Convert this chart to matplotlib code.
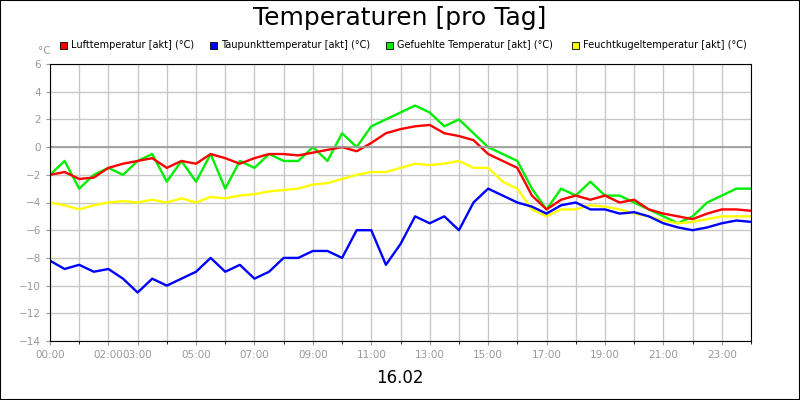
import matplotlib
matplotlib.use("Agg")
import matplotlib.pyplot as plt
import numpy as np

hours = np.arange(0, 24.01, 0.5)
luft = [-2,-1.8,-2.3,-2.2,-1.5,-1.2,-1,-0.8,-1.5,-1,-1.2,-0.5,-0.8,-1.2,-0.8,-0.5,-0.5,-0.6,-0.4,-0.2,0,-0.3,0.3,1.0,1.3,1.5,1.6,1.0,0.8,0.5,-0.5,-1.0,-1.5,-3.5,-4.5,-3.8,-3.5,-3.8,-3.5,-4,-3.8,-4.5,-4.8,-5,-5.2,-4.8,-4.5,-4.5,-4.6]
tau = [-8.2,-8.8,-8.5,-9,-8.8,-9.5,-10.5,-9.5,-10,-9.5,-9,-8,-9,-8.5,-9.5,-9,-8,-8,-7.5,-7.5,-8,-6,-6,-8.5,-7,-5,-5.5,-5,-6,-4,-3,-3.5,-4,-4.3,-4.8,-4.2,-4,-4.5,-4.5,-4.8,-4.7,-5,-5.5,-5.8,-6,-5.8,-5.5,-5.3,-5.4]
gef = [-2,-1,-3,-2,-1.5,-2,-1,-0.5,-2.5,-1,-2.5,-0.5,-3,-1,-1.5,-0.5,-1,-1,0,-1,1,0,1.5,2,2.5,3,2.5,1.5,2,1,0,-0.5,-1,-3,-4.5,-3,-3.5,-2.5,-3.5,-3.5,-4,-4.5,-5,-5.5,-5,-4,-3.5,-3,-3]
feucht = [-4,-4.2,-4.5,-4.2,-4,-3.9,-4,-3.8,-4,-3.7,-4,-3.6,-3.7,-3.5,-3.4,-3.2,-3.1,-3.0,-2.7,-2.6,-2.3,-2.0,-1.8,-1.8,-1.5,-1.2,-1.3,-1.2,-1.0,-1.5,-1.5,-2.5,-3,-4.5,-5,-4.5,-4.5,-4.2,-4.3,-4.5,-4.8,-5,-5.3,-5.5,-5.4,-5.2,-5,-5,-5]
tick_hours = [0,2,3,5,7,9,11,13,15,17,19,21,23]
tick_labels = ["00:00","02:00","03:00","05:00","07:00","09:00","11:00","13:00","15:00","17:00","19:00","21:00","23:00"]
names = ["Lufttemperatur [akt] (°C)","Taupunkttemperatur [akt] (°C)","Gefuehlte Temperatur [akt] (°C)","Feuchtkugeltemperatur [akt] (°C)"]
colors = ["#ff0000","#0000ff","#00ee00","#ffff00"]

fig = plt.figure(figsize=(8,4), dpi=100)
fig.patches.append(plt.Rectangle((0,0),1,1,transform=fig.transFigure,fill=False,edgecolor="black",lw=1.5))
ax = fig.add_axes([50/800, 59/400, 701/800, 277/400])
for s, c in zip([gef, feucht, tau, luft], [colors[2], colors[3], colors[1], colors[0]]):
    ax.plot(hours, s, color=c, lw=1.7)
ax.set_xlim(0,24); ax.set_ylim(-14,6)
ax.set_yticks(range(-14,7,2))
ax.set_xticks(tick_hours, tick_labels)
ax.set_xticks(np.arange(0,24.1,1), minor=True)
ax.grid(True, which="both", color="#c8c8c8", lw=1)
ax.axhline(0, color="#999999", lw=1.2)
ax.tick_params(labelsize=7.5, colors="#999999", length=3)
for sp in ax.spines.values(): sp.set_color("black")
fig.text(0.5, 0.955, "Temperaturen [pro Tag]", ha="center", va="center", fontsize=18)
fig.text(0.5, 0.055, "16.02", ha="center", va="center", fontsize=12)
fig.text(38/800, 346/400, "°C", fontsize=7.5, color="#999999")
xs = [60, 210, 386, 572]
for x, n, c in zip(xs, names, colors):
    fig.patches.append(plt.Rectangle((x/800, 351/400), 7/800, 7/400, transform=fig.transFigure, facecolor=c, edgecolor="black", lw=0.6))
    fig.text((x+11)/800, 355/400, n, fontsize=7, va="center")
fig.savefig("out.png")
